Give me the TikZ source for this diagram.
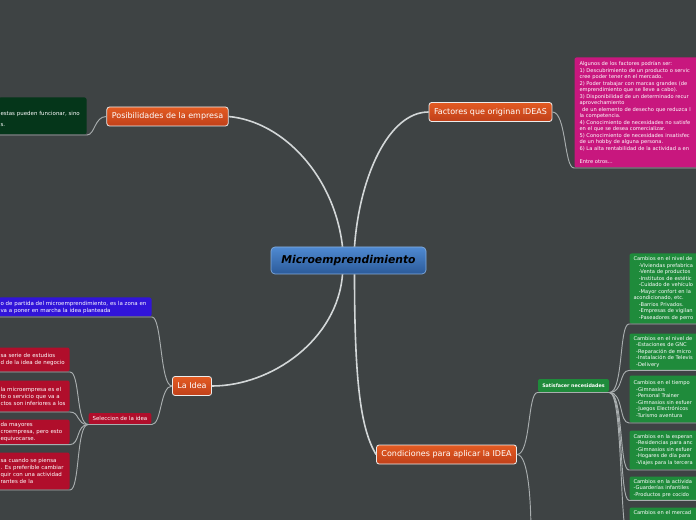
\documentclass[tikz,border=0pt]{standalone}
\usepackage{fontspec}
\setmainfont{DejaVu Sans}

\definecolor{mapbg}{HTML}{3E4344}
\definecolor{mapline}{HTML}{D3D7D8}
\definecolor{subline}{HTML}{A9AEAF}
\definecolor{centertop}{HTML}{4F8AD2}
\definecolor{centerbot}{HTML}{2B5A99}
\definecolor{topictop}{HTML}{E35B22}
\definecolor{topicbot}{HTML}{C0401A}
\definecolor{darkgreen}{HTML}{05361A}
\definecolor{pinkbox}{HTML}{C8177E}
\definecolor{bluebox}{HTML}{3114D9}
\definecolor{redbox}{HTML}{B00E2B}
\definecolor{greenbox}{HTML}{1F8B3B}

\tikzset{every picture/.style={line width=0.75pt}}

\begin{document}
\begin{tikzpicture}[x=0.75pt,y=0.75pt,yscale=-1,xscale=1,
  central/.style={draw=centertop!70!white, line width=0.5pt, rounded corners=3pt, top color=centertop, bottom color=centerbot, text=black, font=\fontsize{8.1}{9}\selectfont\bfseries\itshape, minimum width=116.25pt, minimum height=20.25pt},
  topic/.style={draw=white!85!gray, line width=0.6pt, rounded corners=2pt, top color=topictop, bottom color=topicbot, text=white, font=\fontsize{6}{7}\selectfont, inner xsep=3.75pt, minimum height=14.25pt},
  tagbox/.style={rounded corners=1.5pt, text=white, inner xsep=3pt, inner ysep=1pt},
  leaf/.style={anchor=north west, align=left, rounded corners=1.5pt, inner xsep=1.5pt, inner ysep=2pt, text=white, font=\fontsize{4.1}{5.25}\selectfont},
  note/.style={anchor=north west, align=left, rounded corners=1.5pt, inner xsep=3pt, inner ysep=2pt, text=white, font=\fontsize{3.85}{4.9}\selectfont},
  mainbranch/.style={draw=mapline, line width=1.2pt},
  subbranch/.style={draw=subline, line width=0.7pt}
]
\useasboundingbox (0,0) rectangle (696,520);
\fill[mapbg] (0,0) rectangle (696,520);
\clip (0,0) rectangle (696,520);

% central topic and main branches
\node[central] (main) at (348.5,260.5) {Microemprendimiento};
\node[topic] (posib) at (167.5,116.5) {Posibilidades de la empresa};
\node[topic] (factores) at (490.5,112) {Factores que originan IDEAS};
\node[topic] (idea) at (192,386) {La Idea};
\node[topic] (condic) at (446.5,454.5) {Condiciones para aplicar la IDEA};

% sub topics
\node[tagbox, fill=redbox, font=\fontsize{4.1}{5}\selectfont, minimum width=46.5pt, minimum height=8.25pt] (selec) at (120,418.5) {Seleccion de la idea};
\node[tagbox, fill=greenbox, font=\fontsize{3.6}{4.5}\selectfont\bfseries, minimum width=53.25pt, minimum height=9.75pt] (satisf) at (573.5,385.5) {Satisfacer necesidades};

% notes of Posibilidades and Factores
\node[leaf, fill=darkgreen, text width=63pt, minimum height=27.75pt] (posibtxt) at (-2,97) {\mbox{}\\[3pt]estas pueden funcionar, sino\\[3pt]s.};
\node[note, fill=pinkbox, inner xsep=3.75pt, text width=150pt, minimum height=82.5pt] (factxt) at (574,57) {Algunos de los factores podrían ser:\\1) Descubrimiento de un producto o servic\\cree poder tener en el mercado.\\2) Poder trabajar con marcas grandes (de\\emprendimiento que se lleve a cabo).\\3) Disponibilidad de un determinado recur\\aprovechamiento\\\hspace*{2pt}de un elemento de desecho que reduzca l\\la competencia.\\4) Conocimiento de necesidades no satisfe\\en el que se desea comercializar.\\5) Conocimiento de necesidades insatisfec\\de un hobby de alguna persona.\\6) La alta rentabilidad de la actividad a en\\[4.9pt]Entre otros...};

% notes of La Idea
\node[leaf, fill=bluebox, text width=111.75pt, minimum height=14.25pt] (ideatxt) at (-2,297) {o de partida del microemprendimiento, es la zona en\\va a poner en marcha la idea planteada};
\node[leaf, fill=redbox, text width=50.25pt, minimum height=18pt] (selA) at (-2,347) {sa serie de estudios\\d de la idea de negocio};
\node[leaf, fill=redbox, text width=50.25pt, minimum height=23.25pt] (selB) at (-2,380) {la microempresa es el\\to o servicio que va a\\ctos son inferiores a los};
\node[leaf, fill=redbox, text width=50.25pt, minimum height=17.25pt] (selC) at (-2,419) {da mayores\\croempresa, pero esto\\equivocarse.};
\node[leaf, fill=redbox, text width=50.25pt, minimum height=27.75pt] (selD) at (-2,452) {sa cuando se piensa\\. Es preferible cambiar\\quir con una actividad\\rantes de la};

% notes of Satisfacer necesidades
\node[note, fill=greenbox, text width=100pt, minimum height=52.5pt] (satA) at (629,253) {Cambios en el nivel de\\\hspace*{4pt}-Viviendas prefabrica\\\hspace*{4pt}-Venta de productos\\\hspace*{4pt}-Institutos de estétic\\\hspace*{4pt}-Cuidado de vehículo\\\hspace*{4pt}-Mayor confort en la\\acondicionado, etc.\\\hspace*{4pt}-Barrios Privados.\\\hspace*{4pt}-Empresas de vigilan\\\hspace*{4pt}-Paseadores de perro};
\node[note, fill=greenbox, text width=100pt, minimum height=26.25pt] (satB) at (629,333) {Cambios en el nivel de\\\hspace*{2pt}-Estaciones de GNC\\\hspace*{2pt}-Reparación de micro\\\hspace*{2pt}-Instalación de Televis\\\hspace*{2pt}-Delivery};
\node[note, fill=greenbox, text width=100pt, minimum height=35.25pt] (satC) at (629,375) {Cambios en el tiempo\\\hspace*{2pt}-Gimnasios\\\hspace*{2pt}-Personal Trainer\\\hspace*{2pt}-Gimnasios sin esfuer\\\hspace*{2pt}-Juegos Electrónicos\\\hspace*{2pt}-Turismo aventura};
\node[note, fill=greenbox, text width=100pt, minimum height=29.25pt] (satD) at (629,430) {Cambios en la esperan\\\hspace*{2pt}-Residencias para anc\\\hspace*{2pt}-Gimnasios sin esfuer\\\hspace*{2pt}-Hogares de día para\\\hspace*{2pt}-Viajes para la tercera};
\node[note, fill=greenbox, text width=100pt, minimum height=16.5pt] (satE) at (629,476) {Cambios en la activida\\-Guarderías infantiles\\-Productos pre cocido};
\node[note, fill=greenbox, text width=100pt, text depth=18pt] (satF) at (629,507) {Cambios en el mercad};
\coordinate (condout) at (531,535);

% branches from the centre
\draw[mainbranch] ([xshift=-4.5pt]main.north) .. controls +(-8,-70) and +(55,5) .. (posib.east);
\draw[mainbranch] ([xshift=4.5pt]main.north) .. controls +(5,-70) and +(-40,0) .. (factores.west);
\draw[mainbranch] ([xshift=-4.5pt]main.south) .. controls +(-5,65) and +(60,0) .. (idea.east);
\draw[mainbranch] ([xshift=4.5pt]main.south) .. controls +(0,110) and +(-15,-25) .. (condic.west);

% smaller branches
\draw[subbranch] (posib.west) .. controls +(-12,0) and +(8,0) .. (posibtxt.south east) -- (posibtxt.south west);
\draw[subbranch] (factores.east) .. controls +(14,0) and +(-10,0) .. (factxt.south west) -- (factxt.south east);
\draw[subbranch] (idea.west) .. controls +(-12,0) and +(10,0) .. (ideatxt.south east) -- (ideatxt.south west);
\draw[subbranch] (idea.west) .. controls +(-12,0) and +(10,0) .. (selec.south east) -- (selec.south west);
\draw[subbranch] (selec.south west) .. controls +(-12,0) and +(10,0) .. (selA.south east) -- (selA.south west);
\draw[subbranch] (selec.south west) .. controls +(-12,0) and +(10,0) .. (selB.south east) -- (selB.south west);
\draw[subbranch] (selec.south west) .. controls +(-12,0) and +(10,0) .. (selC.south east) -- (selC.south west);
\draw[subbranch] (selec.south west) .. controls +(-12,0) and +(10,0) .. (selD.south east) -- (selD.south west);
\draw[subbranch] (condic.east) .. controls +(14,0) and +(-10,0) .. (satisf.south west) -- (satisf.south east);
\draw[subbranch] (condic.east) .. controls +(12,0) and +(0,-30) .. (condout);
\draw[subbranch] (satisf.south east) .. controls +(14,0) and +(-10,0) .. (satA.south west) -- (satA.south east);
\draw[subbranch] (satisf.south east) .. controls +(14,0) and +(-10,0) .. (satB.south west) -- (satB.south east);
\draw[subbranch] (satisf.south east) .. controls +(14,0) and +(-10,0) .. (satC.south west) -- (satC.south east);
\draw[subbranch] (satisf.south east) .. controls +(14,0) and +(-10,0) .. (satD.south west) -- (satD.south east);
\draw[subbranch] (satisf.south east) .. controls +(14,0) and +(-10,0) .. (satE.south west) -- (satE.south east);
\draw[subbranch] (satisf.south east) .. controls +(14,0) and +(-10,0) .. (satF.south west) -- (satF.south east);

\end{tikzpicture}
\end{document}
